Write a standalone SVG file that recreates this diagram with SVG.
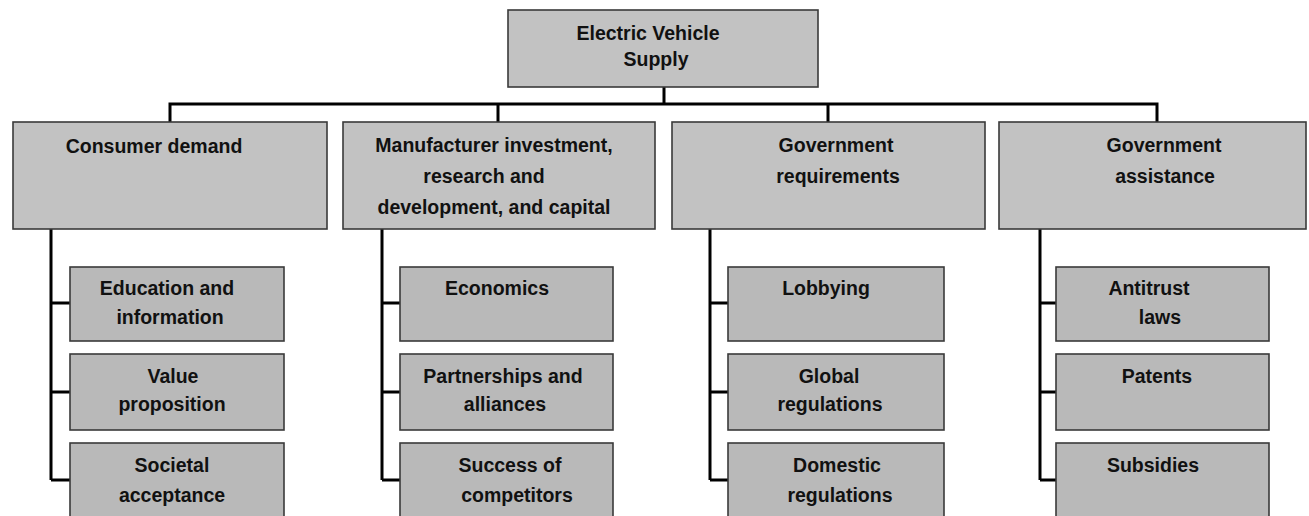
<svg xmlns="http://www.w3.org/2000/svg" width="1309" height="516" viewBox="0 0 1309 516">
<style>
.box{fill:#c2c2c2;stroke:#3a3a3a;stroke-width:1.6}
.sub{fill:#b9b9b9;stroke:#3a3a3a;stroke-width:1.6}
text{font-family:"Liberation Sans",Arial,sans-serif;font-size:19.5px;font-weight:bold;fill:#111;text-anchor:middle}
.conn{fill:none;stroke:#000;stroke-width:3}
</style>
<rect width="1309" height="516" fill="#fff"/>
<g id="connectors" class="conn">
<path d="M664 87V104M170 122V104H1157V122M498 104V122M828 104V122"/>
<path d="M51 229V480M51 303H70M51 392H70M51 480H70"/>
<path d="M382 229V480M382 303H400M382 392H400M382 480H400"/>
<path d="M710 229V480M710 303H728M710 392H728M710 480H728"/>
<path d="M1040 229V480M1040 303H1056M1040 392H1056M1040 480H1056"/>
</g>
<g id="root"><rect class="box" x="508" y="10" width="310" height="77"/><text x="648" y="40">Electric Vehicle</text><text x="656" y="66">Supply</text></g>
<g id="consumer"><rect class="box" x="13" y="122" width="314" height="107"/><text x="154" y="153">Consumer demand</text></g>
<g id="manufacturer"><rect class="box" x="343" y="122" width="312" height="107"/><text x="494" y="152">Manufacturer investment,</text><text x="484" y="183">research and</text><text x="494" y="214">development, and capital</text></g>
<g id="govreq"><rect class="box" x="672" y="122" width="313" height="107"/><text x="836" y="152">Government</text><text x="838" y="183">requirements</text></g>
<g id="govassist"><rect class="box" x="999" y="122" width="307" height="107"/><text x="1164" y="152">Government</text><text x="1165" y="183">assistance</text></g>
<g id="c1"><rect class="sub" x="70" y="267" width="214" height="74"/><text x="167" y="295">Education and</text><text x="170" y="324">information</text></g>
<g id="c2"><rect class="sub" x="70" y="354" width="214" height="76"/><text x="173" y="383">Value</text><text x="172" y="411">proposition</text></g>
<g id="c3"><rect class="sub" x="70" y="443" width="214" height="80"/><text x="172" y="472">Societal</text><text x="172" y="502">acceptance</text></g>
<g id="m1"><rect class="sub" x="400" y="267" width="213" height="74"/><text x="497" y="295">Economics</text></g>
<g id="m2"><rect class="sub" x="400" y="354" width="213" height="76"/><text x="503" y="383">Partnerships and</text><text x="505" y="411">alliances</text></g>
<g id="m3"><rect class="sub" x="400" y="443" width="213" height="80"/><text x="510" y="472">Success of</text><text x="517" y="502">competitors</text></g>
<g id="r1"><rect class="sub" x="728" y="267" width="216" height="74"/><text x="826" y="295">Lobbying</text></g>
<g id="r2"><rect class="sub" x="728" y="354" width="216" height="76"/><text x="829" y="383">Global</text><text x="830" y="411">regulations</text></g>
<g id="r3"><rect class="sub" x="728" y="443" width="216" height="80"/><text x="837" y="472">Domestic</text><text x="840" y="502">regulations</text></g>
<g id="a1"><rect class="sub" x="1056" y="267" width="213" height="74"/><text x="1149" y="295">Antitrust</text><text x="1160" y="324">laws</text></g>
<g id="a2"><rect class="sub" x="1056" y="354" width="213" height="76"/><text x="1157" y="383">Patents</text></g>
<g id="a3"><rect class="sub" x="1056" y="443" width="213" height="80"/><text x="1153" y="472">Subsidies</text></g>
</svg>
